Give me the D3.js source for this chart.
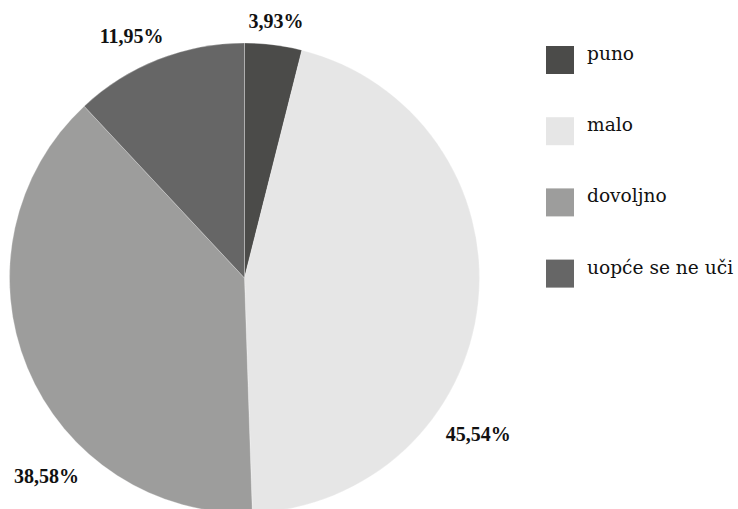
<!DOCTYPE html>
<html>
<head>
<meta charset="utf-8">
<script src="https://cdn.jsdelivr.net/npm/d3@7"></script>
<style>
  html, body { margin: 0; padding: 0; background: #fff; }
  svg { display: block; }
</style>
</head>
<body>
<svg id="chart" width="738" height="509"></svg>
<script>
// ---- data ----
const categories = ["puno", "malo", "dovoljno", "uopće se ne uči"];
const values = [3.93, 45.54, 38.58, 11.95];
const valueLabels = ["3,93%", "45,54%", "38,58%", "11,95%"];

// ---- styles / layout ----
const colors = ["#4b4b49", "#e6e6e6", "#9d9d9c", "#666666"];
const W = 738, H = 509;
const cx = 244.5, cy = 278, R = 235;
// label placement (angle in degrees clockwise from top, distance from centre)
const labelPlacement = [
  { angle: 7.0, dist: 259 },
  { angle: 123.7, dist: 281 },
  { angle: 225.0, dist: 280 },
  { angle: -25.0, dist: 267 }
];

const svg = d3.select("#chart");
const data = categories.map((c, i) => ({ cat: c, value: values[i], label: valueLabels[i], i }));

const pie = d3.pie().sort(null).value(d => d.value);
const arc = d3.arc().innerRadius(0).outerRadius(R);
const color = d3.scaleOrdinal().domain(categories).range(colors);

const g = svg.append("g").attr("transform", `translate(${cx},${cy})`);
g.selectAll("path.slice")
  .data(pie(data))
  .join("path")
  .attr("class", "slice")
  .attr("d", arc)
  .attr("fill", d => color(d.data.cat))
  .attr("stroke", "rgba(255,255,255,0.35)")
  .attr("stroke-width", 0.8);

// value labels
g.selectAll("text.val")
  .data(pie(data))
  .join("text")
  .attr("class", "val")
  .attr("x", (d, i) => labelPlacement[i].dist * Math.sin(labelPlacement[i].angle * Math.PI / 180))
  .attr("y", (d, i) => -labelPlacement[i].dist * Math.cos(labelPlacement[i].angle * Math.PI / 180) + 7)
  .attr("text-anchor", "middle")
  .attr("font-family", "'Liberation Serif', serif")
  .attr("font-weight", "bold")
  .attr("font-size", 20)
  .attr("fill", "#111")
  .text(d => d.data.label);

// legend
const legendY = d3.scalePoint().domain(categories).range([60, 273.6]);
const legend = svg.append("g");
const items = legend.selectAll("g.item")
  .data(data)
  .join("g")
  .attr("class", "item")
  .attr("transform", d => `translate(546,${legendY(d.cat)})`);
items.append("rect")
  .attr("x", 0).attr("y", -14)
  .attr("width", 28).attr("height", 28)
  .attr("fill", d => color(d.cat));
items.append("text")
  .attr("x", 41).attr("y", 0)
  .attr("font-family", "'DejaVu Serif', serif")
  .attr("font-size", 18.6)
  .attr("fill", "#111")
  .text(d => d.cat);
</script>
</body>
</html>
